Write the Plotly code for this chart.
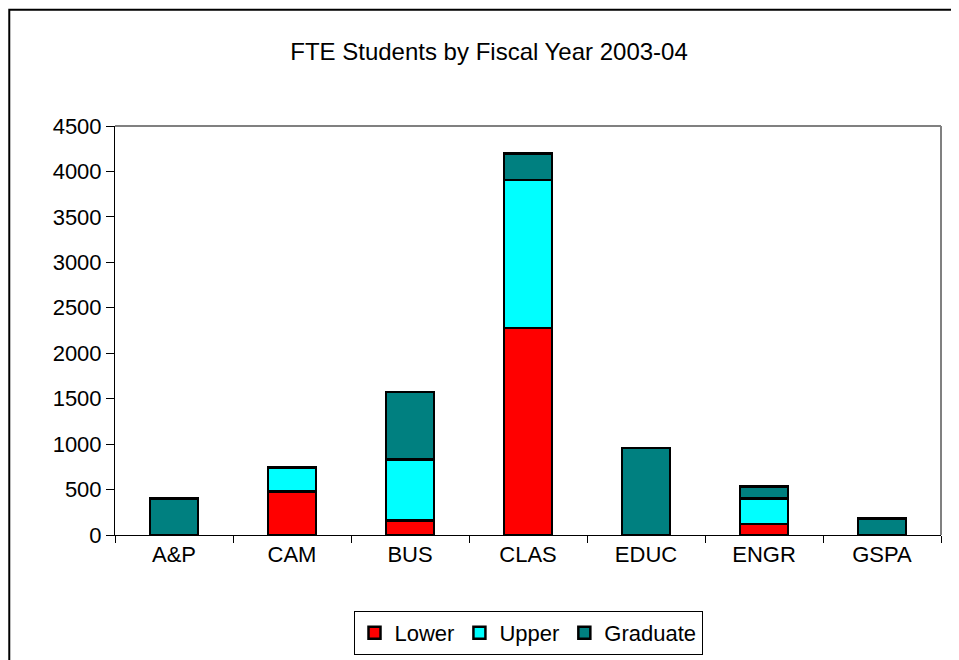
import plotly.graph_objects as go

categories = ["A&P", "CAM", "BUS", "CLAS", "EDUC", "ENGR", "GSPA"]
lower = [None, 477, 161, 2276, None, 121, None]
upper = [None, 267, 667, 1628, None, 279, None]
graduate = [400, None, 745, 293, 960, 135, 180]
y_ticks = [0, 500, 1000, 1500, 2000, 2500, 3000, 3500, 4000, 4500]

FONT = "Liberation Sans, Arial, sans-serif"

fig = go.Figure()
for name, vals, color in [("Lower", lower, "#FF0000"),
                          ("Upper", upper, "#00FFFF"),
                          ("Graduate", graduate, "#008080")]:
    fig.add_trace(go.Bar(x=categories, y=vals, name=name,
                         marker=dict(color=color, line=dict(color="black", width=2.5))))

fig.update_layout(
    width=951, height=652,
    barmode="stack", bargap=0.59,
    margin=dict(l=107, r=18, t=118, b=125, autoexpand=False),
    paper_bgcolor="white", plot_bgcolor="white",
    font=dict(family=FONT, size=22, color="black"),
    title=dict(text="FTE Students by Fiscal Year 2003-04", x=481 / 951, xref="container",
               y=1 - 44 / 652, yref="container", xanchor="center", yanchor="middle",
               font=dict(family=FONT, size=24, color="black")),
    showlegend=True,
    legend=dict(orientation="h", x=0.5, xanchor="center", xref="paper",
                y=1 - 603 / 652, yanchor="top", yref="container",
                bordercolor="black", borderwidth=1, itemwidth=30,
                font=dict(family=FONT, size=22), traceorder="normal"),
    xaxis=dict(type="category", showline=True, linecolor="black", linewidth=1,
               ticks="outside", tickson="boundaries", ticklen=7, tickcolor="black",
               showgrid=False, tickfont=dict(size=22), automargin=False),
    yaxis=dict(range=[0, 4500], tickvals=y_ticks, showline=True, linecolor="black",
               linewidth=1, ticks="outside", ticklen=8, tickcolor="black",
               showgrid=False, zeroline=False, tickfont=dict(size=22), automargin=False),
    shapes=[
        dict(type="line", xref="paper", yref="paper", x0=0, x1=1, y0=1, y1=1,
             line=dict(color="#808080", width=2), layer="below"),
        dict(type="line", xref="paper", yref="paper", x0=1, x1=1, y0=0, y1=1,
             line=dict(color="#808080", width=2), layer="below"),
        dict(type="rect", xref="paper", yref="paper", x0=-0.128, x1=1.1,
             y0=-0.5, y1=1.284, line=dict(color="black", width=2),
             fillcolor="rgba(0,0,0,0)", layer="below"),
    ],
)

fig.write_html("out.html")
